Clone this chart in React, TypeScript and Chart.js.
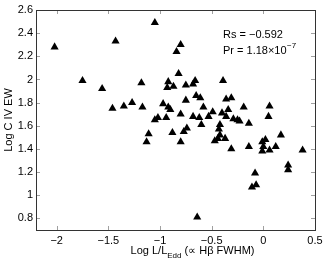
import React, { useEffect, useRef } from 'react';
import { Chart, registerables } from 'chart.js';
Chart.register(...registerables);

// Log L/L_Edd (x) and Log C IV EW (y)
const logLEdd = [
  -2.02, -1.43, -1.75, -1.56, -1.46, -1.35, -1.27, -1.05, -0.80, -0.84,
  -1.18, -0.82, -0.92, -0.93, -0.87, -0.75, -0.66, -0.68, -0.39, -0.75,
  -0.65, -0.61, -0.36, -0.31, -1.17, -0.97, -0.92, -0.90, -0.58, -0.19,
  0.06, 0.05, -0.80, -1.05, -1.02, -0.94, -0.68, -0.62, -0.53, -0.49,
  -0.40, -0.34, -0.36, -0.29, -0.25, -0.23, -0.14, -0.60, -0.42, -0.43,
  -0.42, -0.74, -0.77, -0.88, -1.11, -1.13, -0.80, -0.47, -0.44, -0.37,
  -0.31, -0.14, -0.01, 0.02, 0.00, -0.01, 0.06, 0.12, 0.17, 0.38,
  -0.08, 0.24, 0.24, -0.11, -0.07, -0.64,
];
const logCIVEW = [
  2.28, 2.33, 1.99, 1.92, 1.75, 1.77, 1.80, 2.49, 2.30, 2.24,
  1.97, 2.05, 1.98, 1.93, 1.94, 1.95, 1.99, 1.96, 1.99, 1.82,
  1.86, 1.84, 1.83, 1.84, 1.76, 1.79, 1.76, 1.74, 1.76, 1.76,
  1.77, 1.68, 1.70, 1.65, 1.67, 1.67, 1.68, 1.67, 1.68, 1.72,
  1.71, 1.74, 1.68, 1.66, 1.65, 1.64, 1.62, 1.61, 1.61, 1.57,
  1.52, 1.58, 1.55, 1.54, 1.53, 1.46, 1.46, 1.47, 1.49, 1.49,
  1.40, 1.42, 1.46, 1.48, 1.42, 1.38, 1.39, 1.42, 1.52, 1.39,
  1.19, 1.26, 1.22, 1.07, 1.09, 0.81,
];

const xTickValues = [-2, -1.5, -1, -0.5, 0, 0.5];
const yTickValues = [0.8, 1, 1.2, 1.4, 1.6, 1.8, 2, 2.2, 2.4, 2.6];
const xMin = -2.2;
const xMax = 0.5;
const yMin = 0.7;
const yMax = 2.6;

const xTitleMain = 'Log L/L';
const xTitleSub = 'Edd';
const xTitleRest = ' (\u221D H\u03B2 FWHM)';
const yTitle = 'Log C IV EW';
const rsLabel = 'Rs = \u22120.592';
const prLabel = 'Pr = 1.18\u00D710';
const prExponent = '\u22127';

const FONT = '"Liberation Sans", Arial, Helvetica, sans-serif';
const fmt = (v: number) => String(v).replace('-', '\u2212');

const framePlugin = {
  id: 'frame',
  afterDraw(chart: any) {
    const { ctx, chartArea: a, scales } = chart;
    const xs = scales.x;
    const ys = scales.y;
    ctx.save();
    ctx.lineWidth = 1;
    ctx.strokeStyle = '#a0a0a0';
    ctx.beginPath();
    for (const v of xTickValues) {
      const px = Math.round(xs.getPixelForValue(v)) + 0.5;
      ctx.moveTo(px, a.top);
      ctx.lineTo(px, a.top + 4);
      ctx.moveTo(px, a.bottom);
      ctx.lineTo(px, a.bottom - 4);
    }
    for (const v of yTickValues) {
      const py = Math.round(ys.getPixelForValue(v)) + 0.5;
      ctx.moveTo(a.left, py);
      ctx.lineTo(a.left + 4, py);
      ctx.moveTo(a.right, py);
      ctx.lineTo(a.right - 4, py);
    }
    ctx.stroke();
    ctx.strokeStyle = '#333333';
    ctx.strokeRect(
      Math.round(a.left) + 0.5,
      Math.round(a.top) + 0.5,
      Math.round(a.right - a.left),
      Math.round(a.bottom - a.top)
    );

    ctx.fillStyle = '#000';
    ctx.textBaseline = 'alphabetic';
    ctx.textAlign = 'left';
    // x title with subscript
    const big = `11px ${FONT}`;
    const small = `8px ${FONT}`;
    ctx.font = big;
    const w1 = ctx.measureText(xTitleMain).width;
    const w3 = ctx.measureText(xTitleRest).width;
    ctx.font = small;
    const w2 = ctx.measureText(xTitleSub).width;
    const total = w1 + w2 + w3;
    const cx = (a.left + a.right) / 2 + 17;
    let x0 = cx - total / 2;
    const by = 254;
    ctx.font = big;
    ctx.fillText(xTitleMain, x0, by);
    ctx.font = small;
    ctx.fillText(xTitleSub, x0 + w1, by + 4);
    ctx.font = big;
    ctx.fillText(xTitleRest, x0 + w1 + w2, by);

    // y title
    ctx.save();
    ctx.translate(9, (a.top + a.bottom) / 2);
    ctx.rotate(-Math.PI / 2);
    ctx.textAlign = 'center';
    ctx.textBaseline = 'middle';
    ctx.font = big;
    ctx.fillText(yTitle, 0, 0);
    ctx.restore();

    // annotation
    const ax = a.left + 187;
    ctx.textBaseline = 'middle';
    ctx.font = big;
    ctx.fillText(rsLabel, ax, a.top + 25);
    ctx.fillText(prLabel, ax, a.top + 41);
    const wp = ctx.measureText(prLabel).width;
    ctx.font = small;
    ctx.fillText(prExponent, ax + wp + 0.5, a.top + 36);
    ctx.restore();
  },
};

export default function App() {
  const canvasRef = useRef<HTMLCanvasElement | null>(null);
  useEffect(() => {
    const canvas = canvasRef.current;
    if (!canvas) return;
    const data = logLEdd.map((x, i) => ({ x, y: logCIVEW[i] }));
    const chart = new Chart(canvas, {
      type: 'scatter',
      data: {
        datasets: [
          {
            data,
            pointStyle: 'triangle',
            pointRadius: 4.7,
            pointBackgroundColor: '#000',
            pointBorderColor: '#000',
            pointBorderWidth: 0,
          },
        ],
      },
      options: {
        animation: false,
        responsive: false,
        maintainAspectRatio: false,
        layout: { padding: { top: 10, right: 12, left: 0, bottom: 0 } },
        plugins: {
          legend: { display: false },
          tooltip: { enabled: false },
          title: { display: false },
        },
        scales: {
          x: {
            type: 'linear',
            min: xMin,
            max: xMax,
            grid: { display: false, drawTicks: false },
            border: { display: false },
            afterBuildTicks: (s: any) => {
              s.ticks = xTickValues.map((value) => ({ value }));
            },
            afterFit: (s: any) => {
              s.height = 30;
            },
            ticks: {
              padding: 4,
              color: '#000',
              font: { family: FONT, size: 11 },
              maxRotation: 0,
              autoSkip: false,
              callback: (v: any) => fmt(Number(v)),
            },
          },
          y: {
            type: 'linear',
            min: yMin,
            max: yMax,
            grid: { display: false, drawTicks: false },
            border: { display: false },
            afterBuildTicks: (s: any) => {
              s.ticks = yTickValues.map((value) => ({ value }));
            },
            afterFit: (s: any) => {
              s.width = 36;
            },
            ticks: {
              padding: 3,
              color: '#000',
              font: { family: FONT, size: 11 },
              autoSkip: false,
              callback: (v: any) => fmt(Number(v)),
            },
          },
        },
      },
      plugins: [framePlugin],
    });
    return () => chart.destroy();
  }, []);

  return (
    <div style={{ position: 'fixed', left: 0, top: 0, width: 327, height: 260, background: '#fff' }}>
      <canvas ref={canvasRef} width={327} height={260} style={{ display: 'block' }} />
    </div>
  );
}
